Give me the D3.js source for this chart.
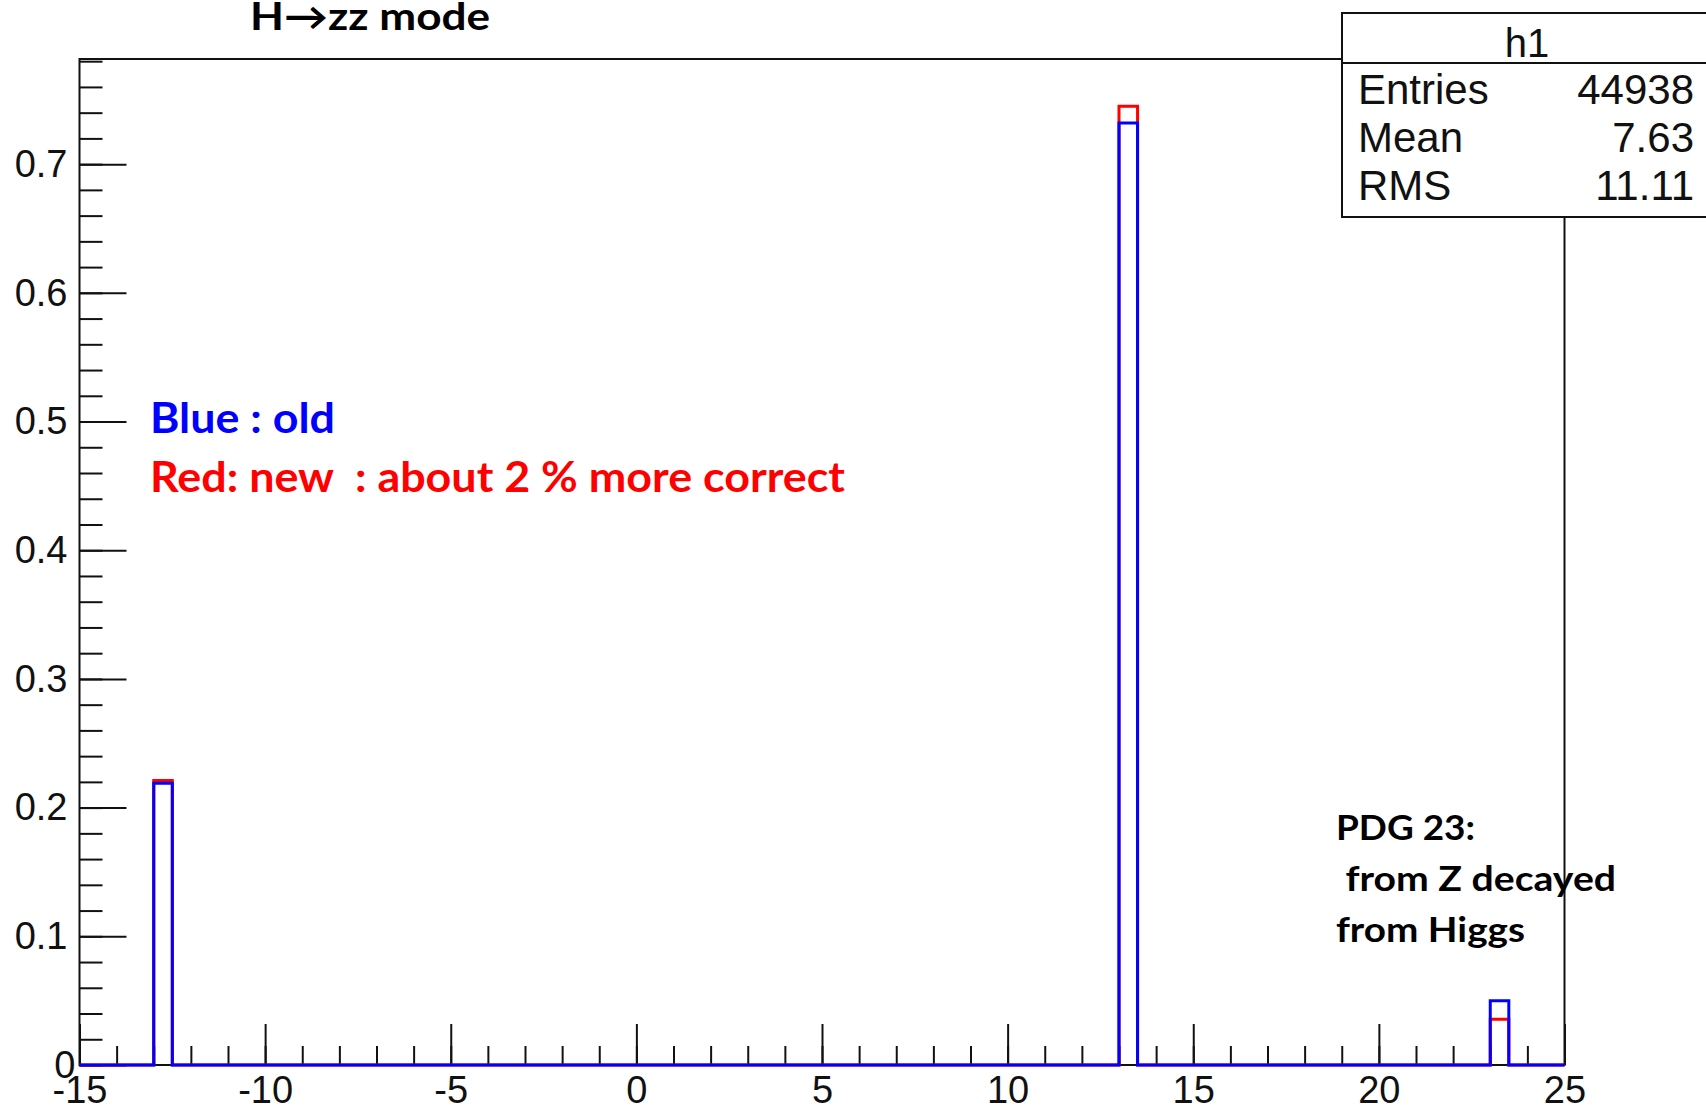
<!DOCTYPE html>
<html>
<head>
<meta charset="utf-8">
<script src="https://cdn.jsdelivr.net/npm/d3@7"></script>
<style>
  body { margin: 0; background: #fff; }
  svg text { fill: #111; }
</style>
</head>
<body>
<div id="chart"></div>
<script>
// histogram bins with content (bin width 0.5, all other bins are empty)
var binLow = [-13, 13, 23];
var blueVals = [0.219, 0.732, 0.050];   // old
var redVals = [0.221, 0.745, 0.0355];   // new
var binWidth = 0.5;

var xTicks = [-15, -10, -5, 0, 5, 10, 15, 20, 25];
var xTickLabels = ["-15", "-10", "-5", "0", "5", "10", "15", "20", "25"];
var yTicks = [0, 0.1, 0.2, 0.3, 0.4, 0.5, 0.6, 0.7];
var yTickLabels = ["0", "0.1", "0.2", "0.3", "0.4", "0.5", "0.6", "0.7"];

var statTitle = "h1";
var statLabels = ["Entries", "Mean", "RMS"];
var statValues = ["44938", "7.63", "11.11"];

var titleText = "H\u2192zz mode";
var legendLines = [
  { text: "Blue : old", color: "#0000ff" },
  { text: "Red: new\u00a0 : about 2 % more correct", color: "#ff0000" }
];
var noteLines = ["PDG 23:", "\u00a0from Z decayed", "from Higgs"];

var width = 1706, height = 1111;
// plot frame (don't use "top", it's window.top)
var frameL = 79.5, frameR = 1564.5, frameT = 59, frameB = 1065;

var svg = d3.select("#chart").append("svg")
  .attr("width", width)
  .attr("height", height);

var x = d3.scaleLinear().domain([-15, 25]).range([frameL, frameR]);
var y = d3.scaleLinear().domain([0, 0.7817]).range([frameB, frameT]);

// ---- axes (ROOT style: ticks pointing inwards)
var axisFont = "'Liberation Sans', Arial, sans-serif";

var yMinor = d3.range(0, 0.781, 0.02);
svg.append("g")
  .attr("transform", "translate(" + frameL + ",0)")
  .call(d3.axisLeft(y).tickValues(yMinor).tickSize(-23).tickFormat(""))
  .call(function (g) { g.select(".domain").remove(); })
  .selectAll("line").attr("stroke", "#111").attr("stroke-width", 2);

var yAxis = svg.append("g")
  .attr("transform", "translate(" + frameL + ",0)")
  .call(d3.axisLeft(y).tickValues(yTicks).tickSize(-47).tickPadding(12)
    .tickFormat(function (d, i) { return yTickLabels[i]; }));
yAxis.select(".domain").remove();
yAxis.selectAll("line").attr("stroke", "#111").attr("stroke-width", 2);
yAxis.selectAll("text")
  .style("font-family", axisFont)
  .style("font-size", "38px")
  .attr("fill", "#111");
// ROOT pushes the "0" label a bit towards the axis
yAxis.selectAll("text").filter(function (d) { return d === 0; })
  .attr("x", -4);

var xMinor = d3.range(-15, 25.5, 1);
svg.append("g")
  .attr("transform", "translate(0," + frameB + ")")
  .call(d3.axisBottom(x).tickValues(xMinor).tickSize(-19).tickFormat(""))
  .call(function (g) { g.select(".domain").remove(); })
  .selectAll("line").attr("stroke", "#111").attr("stroke-width", 2);

var xAxis = svg.append("g")
  .attr("transform", "translate(0," + frameB + ")")
  .call(d3.axisBottom(x).tickValues(xTicks).tickSize(-41).tickPadding(11)
    .tickFormat(function (d, i) { return xTickLabels[i]; }));
xAxis.select(".domain").remove();
xAxis.selectAll("line").attr("stroke", "#111").attr("stroke-width", 2);
xAxis.selectAll("text")
  .style("font-family", axisFont)
  .style("font-size", "38px")
  .attr("fill", "#111");

// frame
svg.append("rect")
  .attr("x", frameL).attr("y", frameT)
  .attr("width", frameR - frameL).attr("height", frameB - frameT)
  .attr("fill", "none")
  .attr("stroke", "#111")
  .attr("stroke-width", 2);

// ---- histograms drawn as outline steps
function stepPoints(vals) {
  var pts = [[-15, 0]];
  for (var i = 0; i < binLow.length; i++) {
    pts.push([binLow[i], 0]);
    pts.push([binLow[i], vals[i]]);
    pts.push([binLow[i] + binWidth, vals[i]]);
    pts.push([binLow[i] + binWidth, 0]);
  }
  pts.push([25, 0]);
  return pts;
}

var line = d3.line()
  .x(function (d) { return x(d[0]); })
  .y(function (d) { return y(d[1]); });

svg.append("path")
  .attr("d", line(stepPoints(redVals)))
  .attr("fill", "none")
  .attr("stroke", "#ff0000")
  .attr("stroke-width", 3);

svg.append("path")
  .attr("d", line(stepPoints(blueVals)))
  .attr("fill", "none")
  .attr("stroke", "#0000ff")
  .attr("stroke-width", 3);

// ---- stats box
var box = svg.append("g");
box.append("rect")
  .attr("x", 1342).attr("y", 13)
  .attr("width", 400).attr("height", 204)
  .attr("fill", "#fff")
  .attr("stroke", "#111")
  .attr("stroke-width", 2);
box.append("line")
  .attr("x1", 1342).attr("x2", 1742)
  .attr("y1", 63).attr("y2", 63)
  .attr("stroke", "#111").attr("stroke-width", 2);
box.append("text")
  .attr("x", 1527).attr("y", 57)
  .attr("text-anchor", "middle")
  .style("font-family", axisFont)
  .style("font-size", "40px")
  .text(statTitle);
statLabels.forEach(function (lab, i) {
  var by = 104 + i * 48;
  box.append("text")
    .attr("x", 1358).attr("y", by)
    .style("font-family", axisFont)
    .style("font-size", "42px")
    .text(lab);
  box.append("text")
    .attr("x", 1694).attr("y", by)
    .attr("text-anchor", "end")
    .style("font-family", axisFont)
    .style("font-size", "42px")
    .text(statValues[i]);
});

// ---- annotations
var noteFont = "Lato, 'Open Sans', sans-serif";

svg.append("text")
  .attr("x", 250).attr("y", 30)
  .style("font-family", noteFont)
  .style("font-weight", "bold")
  .style("font-size", "38px")
  .style("fill", "#000")
  .attr("textLength", 240)
  .attr("lengthAdjust", "spacingAndGlyphs")
  .text(titleText);

var legendWidths = [185, 695];
legendLines.forEach(function (l, i) {
  svg.append("text")
    .attr("x", 150).attr("y", 433 + i * 59)
    .style("font-family", noteFont)
    .style("font-weight", "bold")
    .style("font-size", "42px")
    .style("fill", l.color)
    .attr("textLength", legendWidths[i])
    .attr("lengthAdjust", "spacingAndGlyphs")
    .text(l.text);
});

var noteWidths = [139, 280, 189];
noteLines.forEach(function (t, i) {
  svg.append("text")
    .attr("x", 1336).attr("y", 840 + i * 51)
    .style("font-family", noteFont)
    .style("font-weight", "bold")
    .style("font-size", "34px")
    .style("fill", "#000")
    .attr("textLength", noteWidths[i])
    .attr("lengthAdjust", "spacingAndGlyphs")
    .text(t);
});
</script>
</body>
</html>
